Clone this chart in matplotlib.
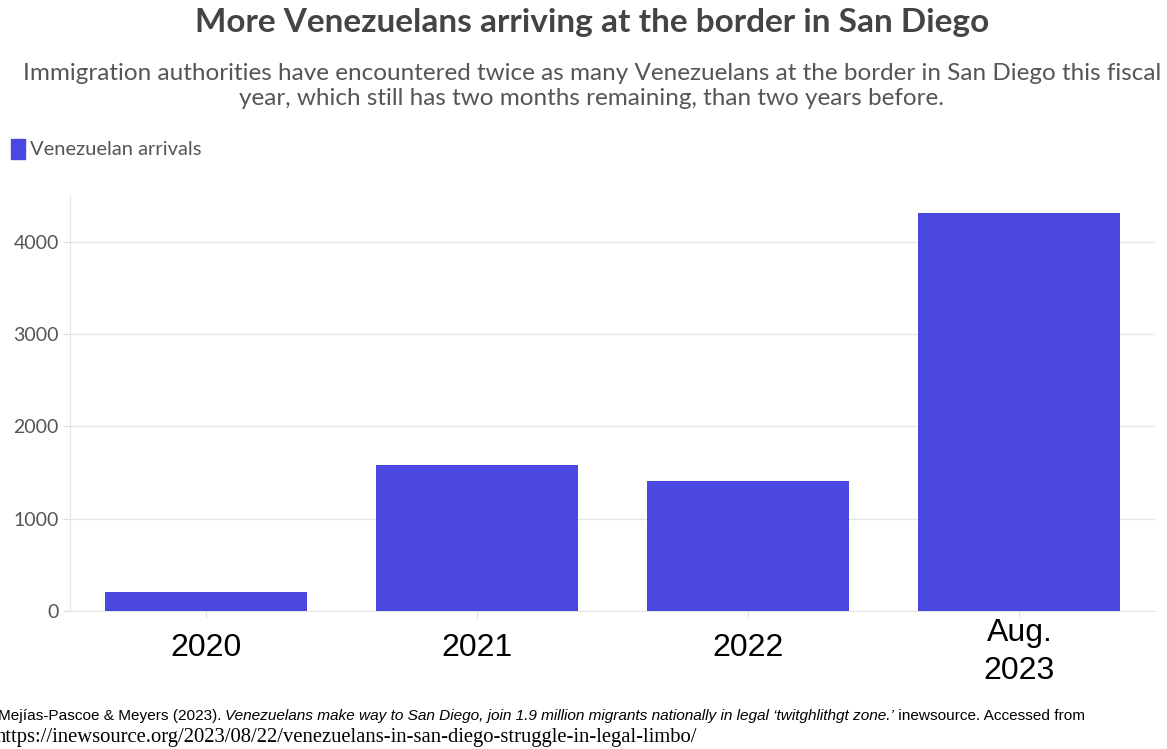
# Venezolanische Ankünfte an der Grenze in San Diego

import matplotlib.pyplot as plt
from matplotlib.transforms import ScaledTranslation

# Daten
jahre = ["2020", "2021", "2022", "Aug.\n2023"]
ankuenfte = [206, 1583, 1409, 4314]
y_ticks = [0, 1000, 2000, 3000, 4000]

farbe = "#4b47e0"

fig = plt.figure(figsize=(11.67, 7.49), dpi=100)
ax = fig.add_axes([0.06, 0.1843, 0.9297, 0.5554])

x = range(len(jahre))
ax.bar(x, ankuenfte, width=0.745, color=farbe, zorder=3)

ax.set_xlim(-0.5, 3.5)
ax.set_ylim(0, 4510)
ax.set_xticks(list(x))
ax.set_xticklabels(jahre, fontsize=23, family="Liberation Sans", color="black",
                   linespacing=1.35)
ax.set_yticks(y_ticks)
ax.set_yticklabels([str(v) for v in y_ticks], fontsize=14, family="Lato", color="#555555")
ax.tick_params(axis="x", length=5, color="#dddddd", pad=11)
ax.tick_params(axis="y", length=5, color="#dddddd", pad=3)

# zweizeiliges Label etwas nach oben schieben
lbl = ax.get_xticklabels()[3]
lbl.set_transform(lbl.get_transform() + ScaledTranslation(0, 11 / 72, fig.dpi_scale_trans))

ax.grid(axis="y", color="#e6e6e6", linewidth=1, zorder=0)
for s in ["top", "right"]:
    ax.spines[s].set_visible(False)
ax.spines["left"].set_color("#e6e6e6")
ax.spines["bottom"].set_color("#e6e6e6")

# Titel und Untertitel
fig.text(0.5075, 0.970, "More Venezuelans arriving at the border in San Diego",
         ha="center", va="center", fontsize=24, fontweight="bold",
         family="Lato", color="#444444")
fig.text(0.507, 0.885,
         "Immigration authorities have encountered twice as many Venezuelans at the border in San Diego this fiscal\n"
         "year, which still has two months remaining, than two years before.",
         ha="center", va="center", fontsize=17.5, family="Lato", color="#555555",
         linespacing=1.2)

# Legende
fig.patches.append(plt.Rectangle((0.009, 0.788), 0.0125, 0.026, transform=fig.transFigure,
                                 color=farbe))
fig.text(0.026, 0.801, "Venezuelan arrivals", ha="left", va="center",
         fontsize=14.5, family="Lato", color="#555555")

# Quelle (erste Zeile aus drei Teilen zusammengesetzt)
teile = [
    ("Mejías-Pascoe & Meyers (2023). ", "normal"),
    ("Venezuelans make way to San Diego, join 1.9 million migrants nationally in legal \u2018twitghlithgt zone.\u2019", "italic"),
    (" inewsource. Accessed from", "normal"),
]
renderer = fig.canvas.get_renderer()
x_pos = -0.002
for text, stil in teile:
    t = fig.text(x_pos, 0.044, text, ha="left", va="center", fontsize=11.1,
                 family="Liberation Sans", style=stil, color="black")
    bb = t.get_window_extent(renderer=renderer)
    x_pos += bb.width / fig.bbox.width
fig.text(-0.004, 0.015, "https://inewsource.org/2023/08/22/venezuelans-in-san-diego-struggle-in-legal-limbo/",
         ha="left", va="center", fontsize=14.9, family="Liberation Serif", color="black")

fig.savefig("out.png", dpi=100)
